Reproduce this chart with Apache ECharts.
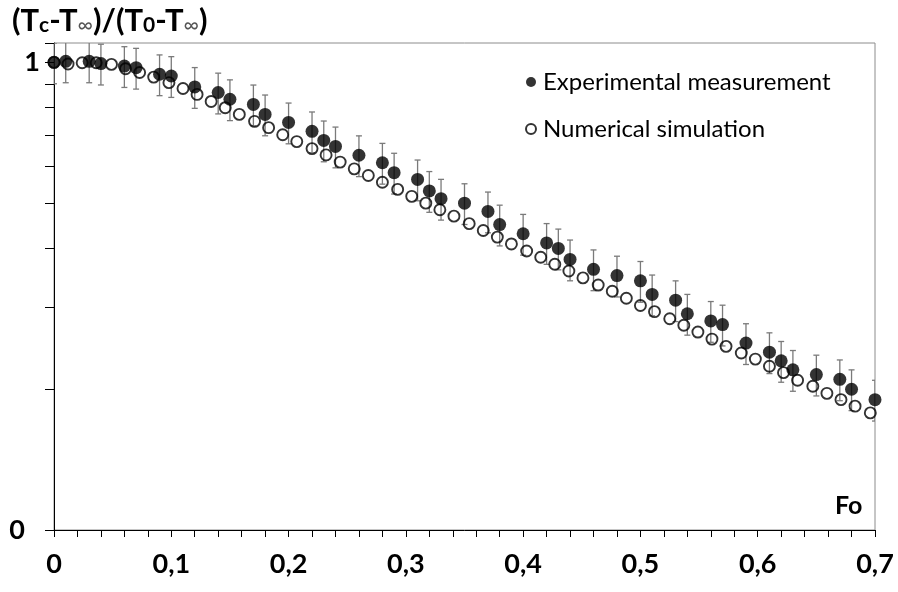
<!DOCTYPE html>
<html><head><meta charset="utf-8">
<script src="https://cdn.jsdelivr.net/npm/echarts@6/dist/echarts.min.js"></script>
<style>html,body{margin:0;padding:0;background:#fff}#c{width:898px;height:592px}</style>
</head><body><div id="c"></div>
<script>
// Experimental measurement (filled circles, ±10 % error bars)
const foExp = [0,0.01,0.03,0.04,0.06,0.07,0.09,0.10,0.12,0.14,0.15,0.17,0.18,0.20,0.22,0.23,0.24,0.26,0.28,0.29,0.31,0.32,0.33,0.35,0.37,0.38,0.40,0.42,0.43,0.44,0.46,0.48,0.50,0.51,0.53,0.54,0.56,0.57,0.59,0.61,0.62,0.63,0.65,0.67,0.68,0.70];
const expVals = [1.000,1.005,1.005,0.994,0.982,0.974,0.943,0.935,0.886,0.862,0.834,0.813,0.774,0.744,0.712,0.681,0.661,0.633,0.610,0.581,0.562,0.531,0.511,0.500,0.480,0.450,0.430,0.411,0.400,0.379,0.361,0.350,0.341,0.319,0.310,0.290,0.280,0.275,0.251,0.240,0.230,0.220,0.215,0.210,0.200,0.190];
const errFraction = 0.10;
// Numerical simulation (open circles)
const foNum = [0,0.012,0.024,0.036,0.049,0.061,0.073,0.085,0.098,0.110,0.122,0.134,0.146,0.158,0.171,0.183,0.195,0.207,0.220,0.232,0.244,0.256,0.268,0.280,0.293,0.305,0.317,0.329,0.341,0.354,0.366,0.378,0.390,0.403,0.415,0.427,0.439,0.451,0.464,0.476,0.488,0.500,0.512,0.525,0.537,0.549,0.561,0.573,0.586,0.598,0.610,0.622,0.634,0.647,0.659,0.671,0.683,0.696];
const numVals = [1.000,0.992,0.998,0.998,0.990,0.969,0.951,0.930,0.905,0.879,0.854,0.825,0.800,0.774,0.748,0.725,0.700,0.677,0.654,0.634,0.612,0.592,0.573,0.554,0.535,0.517,0.500,0.484,0.469,0.452,0.437,0.423,0.409,0.395,0.383,0.370,0.358,0.346,0.334,0.324,0.313,0.302,0.293,0.283,0.274,0.265,0.256,0.247,0.239,0.232,0.224,0.217,0.209,0.203,0.196,0.190,0.184,0.178];
// Axis ticks / labels
const xLabelValues = [0,0.1,0.2,0.3,0.4,0.5,0.6,0.7];
const yTickValues = [0.1,0.2,0.3,0.4,0.5,0.6,0.7,0.8,0.9,1.0,1.1];
const yLabelValues = [0.1,1];
const seriesNames = ['Experimental measurement','Numerical simulation'];

const FONT = 'Lato';
const chart = echarts.init(document.getElementById('c'), null, {renderer:'canvas'});
const expData = foExp.map((x,i)=>[x, expVals[i]]);
const numData = foNum.map((x,i)=>[x, numVals[i]]);

chart.setOption({
  animation:false,
  backgroundColor:'#fff',
  textStyle:{fontFamily:FONT},
  title:{
    left:7, top:-9,
    text:'{a|(T}{s|c}{a|-T}{i|∞}{a|)/(T}{s|0}{a|-T}{i|∞}{a|)}',
    textStyle:{
      rich:{
        a:{fontFamily:FONT,fontSize:31,fontWeight:'bold',color:'#000',lineHeight:40,verticalAlign:'bottom'},
        s:{fontFamily:FONT,fontSize:21,fontWeight:'bold',color:'#000',lineHeight:26,verticalAlign:'bottom',padding:[14,0,0,0]},
        i:{fontFamily:FONT,fontSize:21,fontWeight:'normal',color:'#555',lineHeight:26,verticalAlign:'bottom',padding:[14,0,0,0]}
      }
    }
  },
  legend:{
    data:seriesNames,
    orient:'vertical',
    left:520, top:63,
    itemWidth:10, itemHeight:10,
    itemGap:19,
    icon:'circle',
    textStyle:{fontFamily:FONT,fontSize:24,color:'#000',lineHeight:28,padding:[0,0,0,2]}
  },
  grid:{left:54,right:23,top:43,bottom:62,show:true,borderColor:'#8c8c8c',borderWidth:1,containLabel:false},
  xAxis:{
    type:'value', min:0, max:0.7, interval:0.02,
    axisLine:{show:true,onZero:false,lineStyle:{color:'#000',width:1}},
    axisTick:{show:true,length:7,lineStyle:{color:'#000'}},
    axisLabel:{customValues:xLabelValues,margin:21,fontFamily:FONT,fontSize:27,fontWeight:'bold',color:'#000',
      formatter:v=>String(Math.round(v*10)/10).replace('.',',')},
    splitLine:{show:false}
  },
  yAxis:{
    type:'log', logBase:10, min:0.1, max:1.1,
    axisLine:{show:true,lineStyle:{color:'#000',width:1}},
    axisTick:{show:true,length:9,customValues:yTickValues,lineStyle:{color:'#000'}},
    axisLabel:{customValues:yLabelValues,margin:14,fontFamily:FONT,fontSize:27,fontWeight:'bold',color:'#000',
      formatter:v=>(v<0.5?'{z|0}':'1'),
      rich:{z:{fontFamily:FONT,fontSize:27,fontWeight:'bold',color:'#000',padding:[0,15,0,0]}}},
    splitLine:{show:false}, minorTick:{show:false}
  },
  graphic:[{type:'text',left:835,top:493,style:{text:'Fo',font:'bold 25px '+FONT,fill:'#000'}}],
  series:[
    {
      type:'custom', name:'errorbars', z:1, clip:true,
      data:expData,
      renderItem:(params,api)=>{
        const x=api.value(0), y=api.value(1);
        const lo=api.coord([x,y*(1-errFraction)]);
        const hi=api.coord([x,y*(1+errFraction)]);
        const w=3;
        const st={stroke:'#7a7a7a',lineWidth:1.3};
        return {type:'group',children:[
          {type:'line',shape:{x1:lo[0],y1:lo[1],x2:hi[0],y2:hi[1]},style:st},
          {type:'line',shape:{x1:lo[0]-w,y1:lo[1],x2:lo[0]+w,y2:lo[1]},style:st},
          {type:'line',shape:{x1:hi[0]-w,y1:hi[1],x2:hi[0]+w,y2:hi[1]},style:st}
        ]};
      }
    },
    {
      type:'scatter', name:seriesNames[1], z:2, data:numData,
      symbol:'circle', symbolSize:11,
      itemStyle:{color:'rgba(255,255,255,0)',borderColor:'#000',borderWidth:1.9}
    },
    {
      type:'scatter', name:seriesNames[0], z:3, data:expData,
      symbol:'circle', symbolSize:13,
      itemStyle:{color:'#000',borderColor:'#000',borderWidth:0}
    }
  ]
});
</script></body></html>
